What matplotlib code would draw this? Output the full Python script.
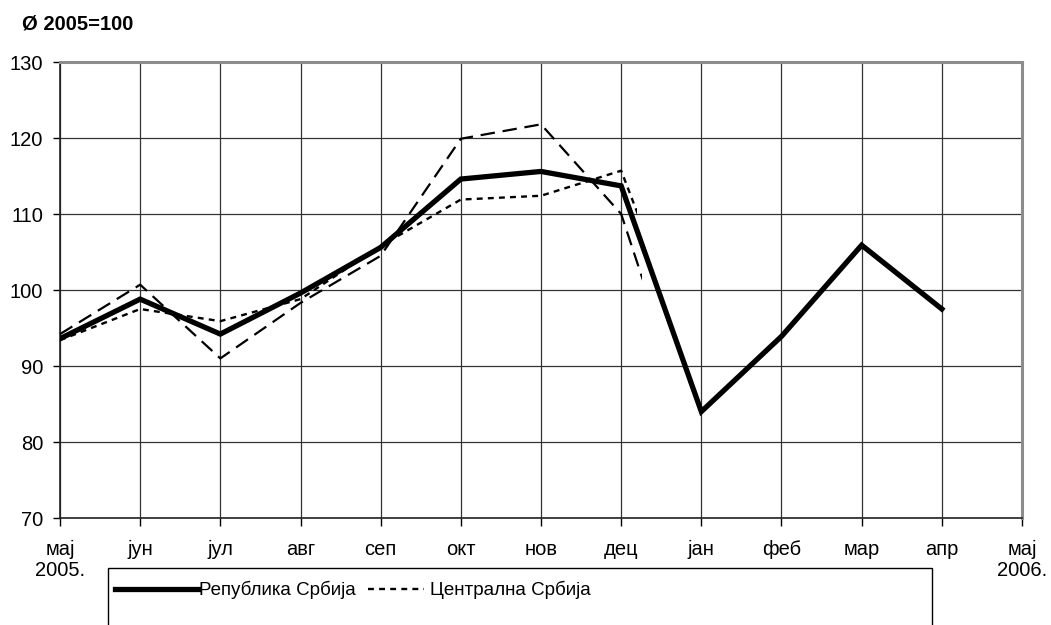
import matplotlib
matplotlib.use("Agg")
import matplotlib.pyplot as plt
from matplotlib.patches import Rectangle

plt.rcParams['font.family'] = ['Liberation Sans', 'DejaVu Sans']

months = ['мај\n2005.', 'јун', 'јул', 'авг', 'сеп', 'окт', 'нов', 'дец',
          'јан', 'феб', 'мар', 'апр', 'мај\n2006.']

# Република Србија (May 2005 - Apr 2006)
republika = [93.6, 98.8, 94.2, 99.6, 105.6, 114.6, 115.6, 113.7, 84.0, 93.9, 105.9, 97.5]
# Централна Србија
centralna = [93.4, 97.5, 95.9, 98.8, 105.8, 111.9, 112.4, 115.7, 88.3]
# АП Војводина
vojvodina = [94.2, 100.7, 91.0, 98.3, 104.5, 119.9, 121.8, 110.0, 78.0]

# the two regional series only show the start of the dec -> jan drop
cut_centralna = 7.2
cut_vojvodina = 7.26

fig = plt.figure(figsize=(10.51, 6.25), dpi=100)
ax = fig.add_axes([0.0571, 0.1712, 0.9153, 0.7296])

x_rep = list(range(len(republika)))
x_cen = list(range(len(centralna)))
x_voj = list(range(len(vojvodina)))

l_voj, = ax.plot(x_voj, vojvodina, color='black', lw=1.6, dashes=(6.5, 3.5),
                 label='АП Војводина', zorder=3)
l_cen, = ax.plot(x_cen, centralna, color='black', lw=1.7, dashes=(2.5, 2.2),
                 label='Централна Србија', zorder=3)
l_rep, = ax.plot(x_rep, republika, color='black', lw=3.8, solid_joinstyle='miter',
                 label='Република Србија', zorder=4)

l_cen.set_clip_path(Rectangle((-1, 0), cut_centralna + 1, 200, transform=ax.transData))
l_voj.set_clip_path(Rectangle((-1, 0), cut_vojvodina + 1, 200, transform=ax.transData))

ax.set_xlim(0, 12)
ax.set_ylim(70, 130)
ax.set_xticks(range(13))
ax.set_xticklabels(months, fontsize=14.5, linespacing=1.1)
ax.set_yticks(range(70, 131, 10))
ax.tick_params(axis='y', labelsize=14.5, direction='out', length=5, width=1, pad=7)
ax.tick_params(axis='x', direction='out', length=6, width=1, pad=10)

ax.grid(True, color='#333333', lw=0.9)
ax.set_axisbelow(True)
for s in ['left', 'bottom']:
    ax.spines[s].set_color('#222222')
    ax.spines[s].set_linewidth(1.2)
for s in ['top', 'right']:
    ax.spines[s].set_color('#8c8c8c')
    ax.spines[s].set_linewidth(2.2)

fig.text(22 / 1051, 1 - 24 / 625, 'Ø 2005=100', fontsize=14.5, fontweight='bold',
         va='center', ha='left')

# legend box runs past the bottom edge of the image
fig.patches.append(Rectangle((108 / 1051, -0.1), 824 / 1051, 0.1 + 1 - 568 / 625,
                             transform=fig.transFigure, fill=False,
                             edgecolor='black', lw=1.0))
leg1 = fig.legend(handles=[l_rep], loc='center left',
                  bbox_to_anchor=(115 / 1051, 1 - 590 / 625), frameon=False,
                  fontsize=13.5, handlelength=4.4, handletextpad=0.1,
                  borderaxespad=0, borderpad=0)
leg2 = fig.legend(handles=[l_cen], loc='center left',
                  bbox_to_anchor=(368 / 1051, 1 - 590 / 625), frameon=False,
                  fontsize=13.5, handlelength=3.0, handletextpad=0.3,
                  borderaxespad=0, borderpad=0)

fig.savefig('out.png', dpi=100)
